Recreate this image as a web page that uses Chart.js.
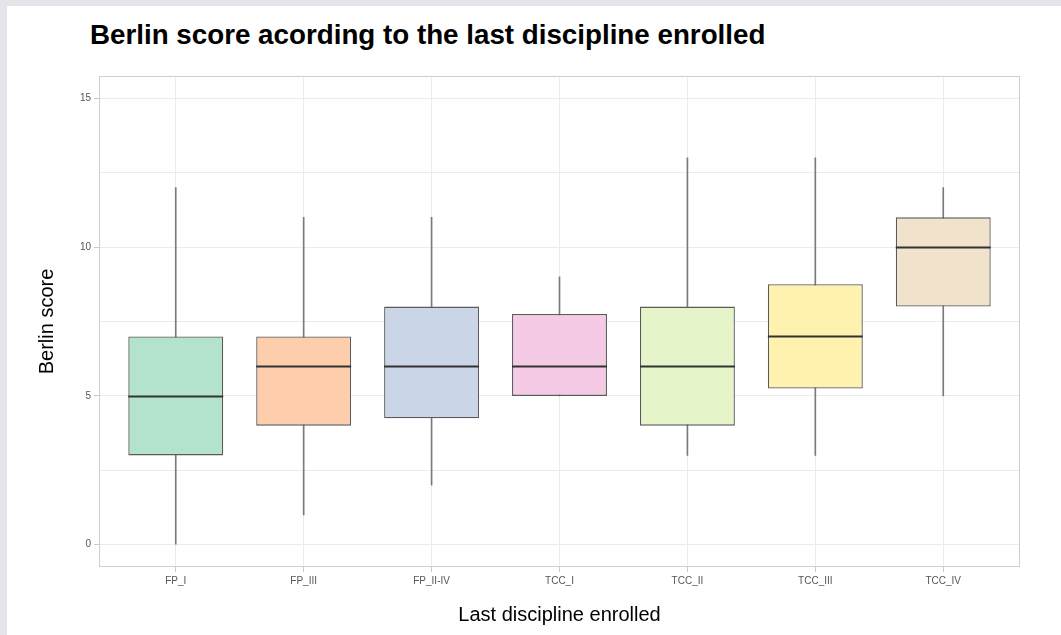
<!DOCTYPE html>
<html>
<head>
<meta charset="utf-8">
<script src="https://cdn.jsdelivr.net/npm/chart.js@4.4.1/dist/chart.umd.min.js"></script>
<style>
  html, body { margin: 0; padding: 0; background: #e4e4ea; width: 1061px; height: 635px; overflow: hidden; }
  #panel { position: absolute; left: 7px; top: 6px; width: 1054px; height: 629px; background: #ffffff; }
  #title { position: absolute; left: 83px; top: 13px; margin: 0; font: bold 27.75px "Liberation Sans", Arial, sans-serif; color: #000; white-space: nowrap; }
  #wrap { position: absolute; left: 0; top: 0; width: 1054px; height: 629px; }
</style>
</head>
<body>
<div id="panel">
  <h1 id="title">Berlin score acording to the last discipline enrolled</h1>
  <div id="wrap"><canvas id="c" width="1054" height="629"></canvas></div>
</div>
<script>
const categories = ["FP_I", "FP_III", "FP_II-IV", "TCC_I", "TCC_II", "TCC_III", "TCC_IV"];
const minValues    = [0, 1, 2,    5,    3, 3,    5];
const q1Values     = [3, 4, 4.25, 5,    4, 5.25, 8];
const medianValues = [5, 6, 6,    6,    6, 7,    10];
const q3Values     = [7, 7, 8,    7.75, 8, 8.75, 11];
const maxValues    = [12, 11, 11, 9,   13, 13,   12];
const yTickValues  = [0, 2.5, 5, 7.5, 10, 12.5, 15];
const fillColors   = ["#B3E2CD", "#FDCDAC", "#CBD5E8", "#F4CAE4", "#E6F5C9", "#FFF2AE", "#F1E2CC"];

const positions = categories.map((c, i) => i + 1);
const boxData = categories.map((c, i) => ({ x: positions[i], y: [q1Values[i], q3Values[i]] }));
const whiskerData = categories.map((c, i) => ({ x: positions[i], y: [minValues[i], maxValues[i]] }));

const medianPlugin = {
  id: 'medianPlugin',
  afterDatasetsDraw(chart) {
    const ctx = chart.ctx;
    const meta = chart.getDatasetMeta(0);
    const y = chart.scales.y;
    ctx.save();
    ctx.strokeStyle = '#333333';
    ctx.lineWidth = 2;
    meta.data.forEach((el, i) => {
      const py = Math.round(y.getPixelForValue(medianValues[i])) + 0.5;
      const half = el.width / 2;
      ctx.beginPath();
      ctx.moveTo(el.x - half, py);
      ctx.lineTo(el.x + half, py);
      ctx.stroke();
    });
    ctx.restore();
  }
};

const framePlugin = {
  id: 'framePlugin',
  afterDatasetsDraw(chart) {
    const a = chart.chartArea;
    const ctx = chart.ctx;
    ctx.save();
    ctx.strokeStyle = '#cfcfcf';
    ctx.lineWidth = 1;
    ctx.strokeRect(Math.round(a.left) + 0.5, Math.round(a.top) + 0.5, Math.round(a.right - a.left) - 1, Math.round(a.bottom - a.top) - 1);
    ctx.restore();
  }
};

new Chart(document.getElementById('c'), {
  type: 'bar',
  data: {
    datasets: [
      {
        label: 'box',
        data: boxData,
        backgroundColor: fillColors,
        borderColor: '#5a5a5a',
        borderWidth: 1.3,
        borderSkipped: false,
        barPercentage: 0.742,
        categoryPercentage: 1,
        grouped: false
      },
      {
        label: 'whisker',
        data: whiskerData,
        backgroundColor: '#7a7a7a',
        borderWidth: 0,
        barThickness: 1,
        grouped: false
      }
    ]
  },
  options: {
    responsive: false,
    animation: false,
    devicePixelRatio: 1,
    parsing: { xAxisKey: 'x', yAxisKey: 'y' },
    layout: { padding: { top: 70, right: 41, bottom: 0, left: 0 } },
    plugins: {
      legend: { display: false },
      tooltip: { enabled: false },
      title: { display: false }
    },
    scales: {
      x: {
        type: 'linear',
        min: 0.4,
        max: 7.6,
        offset: false,
        afterBuildTicks(s) { s.ticks = positions.map(v => ({ value: v })); },
        grid: { offset: false, color: '#ebebeb', lineWidth: 1, tickLength: 5, tickColor: '#c8c8c8', drawTicks: true },
        border: { display: false },
        ticks: {
          color: '#555555', font: { family: 'Liberation Sans', size: 10 }, padding: 3, maxRotation: 0, autoSkip: false,
          callback: (v) => categories[Math.round(v) - 1] || ''
        },
        title: { display: true, text: 'Last discipline enrolled', color: '#000000', font: { family: 'Liberation Sans', size: 20 }, padding: { top: 0, bottom: 8 } },
        afterFit(s) { s.height = 68; }
      },
      y: {
        min: -0.75,
        max: 15.75,
        afterBuildTicks(s) { s.ticks = yTickValues.map(v => ({ value: v })); },
        grid: {
          color: '#ebebeb', lineWidth: 1, tickLength: 5,
          tickColor: (c) => (c.tick && c.tick.value % 5 === 0) ? '#c8c8c8' : 'rgba(0,0,0,0)'
        },
        border: { display: false },
        ticks: {
          color: '#555555', font: { family: 'Liberation Sans', size: 10 }, padding: 3,
          callback: (v) => (v % 5 === 0 ? String(v) : '')
        },
        title: { display: true, text: 'Berlin score', color: '#000000', font: { family: 'Liberation Sans', size: 20 }, padding: { top: 28, bottom: 0 } },
        afterFit(s) { s.width = 92; }
      }
    }
  },
  plugins: [medianPlugin, framePlugin]
});
</script>
</body>
</html>
